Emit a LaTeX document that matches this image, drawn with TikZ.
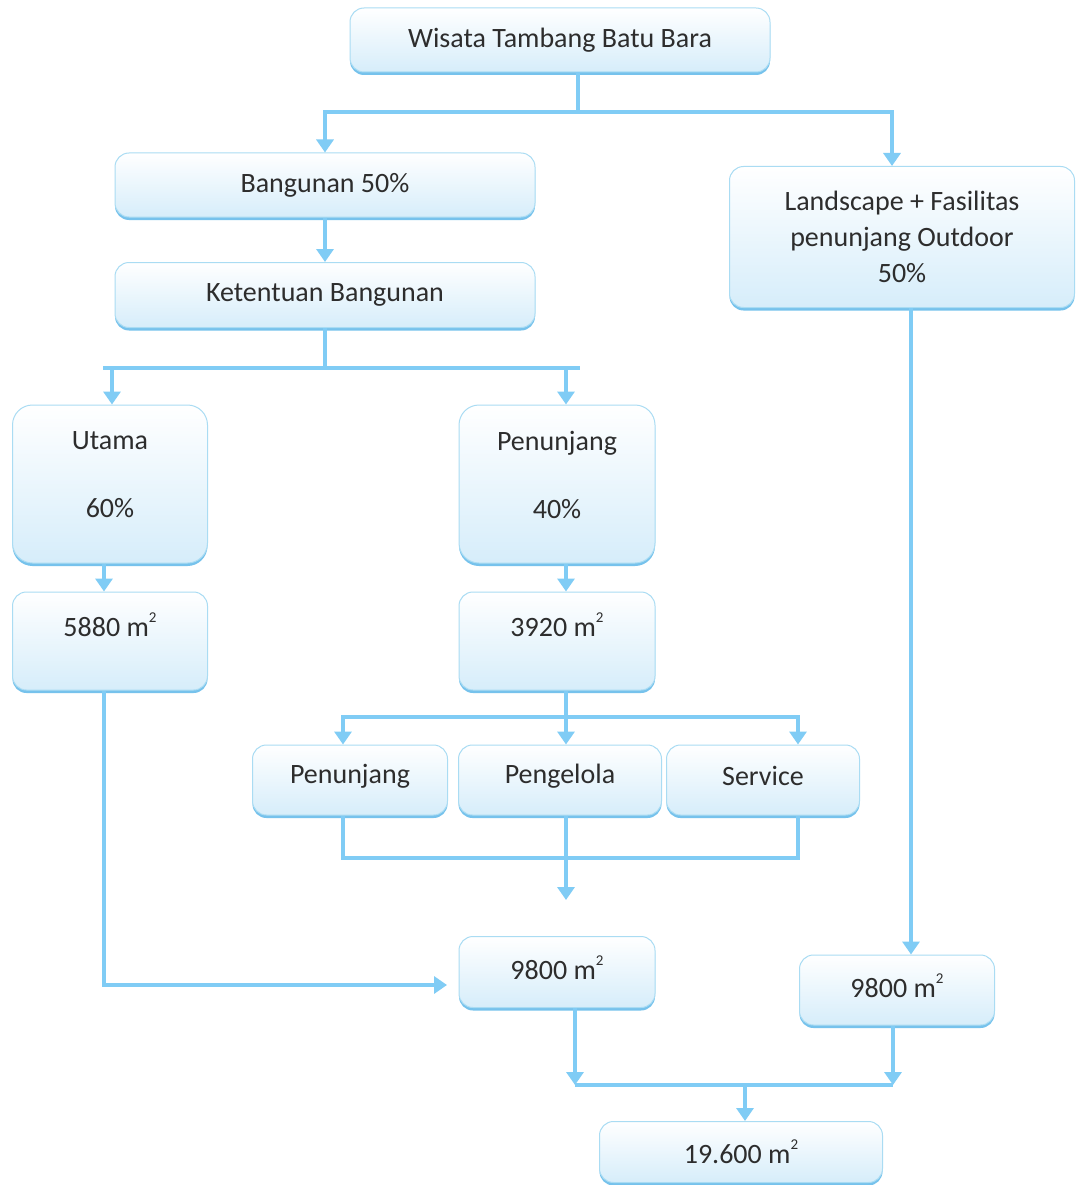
\documentclass[tikz,border=0pt]{standalone}
\usepackage{fontspec}
\setmainfont{Carlito}
\usetikzlibrary{arrows.meta,shadows}
\definecolor{lineblue}{RGB}{128,204,245}
\definecolor{edgeblue}{RGB}{170,220,243}
\definecolor{fillblue}{RGB}{214,237,250}
\definecolor{shadeblue}{RGB}{118,194,236}
\definecolor{txtgray}{RGB}{45,45,45}
\tikzset{
  box/.style={draw=edgeblue, line width=1pt, rounded corners=14pt,
    top color=white, bottom color=fillblue,
    drop shadow={shadow xshift=0pt, shadow yshift=-3pt, fill=shadeblue, opacity=1},
    inner sep=0pt, text=txtgray, font=\fontsize{28pt}{36pt}\selectfont, align=center},
  lbl/.style={text=txtgray, font=\fontsize{28pt}{36pt}\selectfont, align=center, inner sep=0pt},
  conn/.style={draw=lineblue, line width=4.5pt},
  arr/.style={conn, -{Triangle[width=17pt,length=13pt]}},
}
\newcommand{\sqm}[1]{#1 m\raisebox{0.5em}{\fontsize{15pt}{15pt}\selectfont 2}}
\begin{document}
\begin{tikzpicture}[x=1pt,y=-1pt]
\useasboundingbox[fill=white] (0,0) rectangle (1077,1185);

% boxes
\node[box, minimum width=420, minimum height=64] (wis) at (560,40) {Wisata Tambang Batu Bara};
\node[box, minimum width=420, minimum height=64] (bang) at (325,185) {Bangunan 50\%};
\node[box, minimum width=420, minimum height=65] (ket) at (325,295) {Ketentuan Bangunan};
\node[box, minimum width=345, minimum height=141] (land) at (902,237) {Landscape + Fasilitas\\penunjang Outdoor\\50\%};
\node[box, minimum width=195, minimum height=158, rounded corners=20pt] (utama) at (110,484) {};
\node[lbl] (utamaT) at (110,475) {Utama\\[32pt]60\%};
\node[box, minimum width=196, minimum height=158, rounded corners=20pt] (pen) at (557,484) {};
\node[lbl] (penT) at (557,475) {Penunjang\\[32pt]40\%};
\node[box, minimum width=195, minimum height=98] (a5880) at (110,641) {};
\node[lbl] (a5880T) at (110,625) {\sqm{5880}};
\node[box, minimum width=196, minimum height=98] (a3920) at (557,641) {};
\node[lbl] (a3920T) at (557,625) {\sqm{3920}};
\node[box, minimum width=195, minimum height=70] (penS) at (350,780) {};
\node[lbl] (penST) at (350,776) {Penunjang};
\node[box, minimum width=203, minimum height=70] (peng) at (560,780) {};
\node[lbl] (pengT) at (560,776) {Pengelola};
\node[box, minimum width=193, minimum height=70] (serv) at (763,780) {};
\node[lbl] (servT) at (763,776) {Service};
\node[box, minimum width=196, minimum height=71] (l9800) at (557,972) {};
\node[lbl] (l9800T) at (557,968) {\sqm{9800}};
\node[box, minimum width=195, minimum height=70] (r9800) at (897,990) {};
\node[lbl] (r9800T) at (897,986) {\sqm{9800}};
\node[box, minimum width=283, minimum height=61] (total) at (741,1152) {\sqm{19.600}};

% connector columns and junctions
\coordinate (j1) at (578,112);
\coordinate (cLand) at (892,0);
\coordinate (j2) at (325,368);
\coordinate (j2l) at (103,368);
\coordinate (j2r) at (580,368);
\coordinate (cUtIn) at (112,0);
\coordinate (cUt) at (104,0);
\coordinate (cPen) at (566,0);
\coordinate (j3) at (566,717);
\coordinate (c1) at (343,0);
\coordinate (c3) at (798,0);
\coordinate (u1) at (343,858);
\coordinate (u3) at (798,858);
\coordinate (down) at (566,900);
\coordinate (into) at (447,985);
\coordinate (cOut) at (911,0);
\coordinate (cL) at (575,0);
\coordinate (cR) at (893,0);
\coordinate (j4) at (745,1085);

% top split
\draw[conn] (wis.south -| j1) -- (j1);
\draw[arr] (j1) -| (bang.north);
\draw[arr] (j1) -| (cLand |- land.north);
\draw[arr] (bang.south) -- (ket.north);

% building split
\draw[conn] (ket.south) -- (j2);
\draw[conn] (j2l) -- (j2r);
\draw[arr] (cUtIn |- j2) -- (cUtIn |- utama.north);
\draw[arr] (cPen |- j2) -- (cPen |- pen.north);
\draw[arr] (cUt |- utama.south) -- (cUt |- a5880.north);
\draw[arr] (cPen |- pen.south) -- (cPen |- a3920.north);

% support split
\draw[conn] (cPen |- a3920.south) -- (j3);
\draw[arr] (j3) -| (c1 |- penS.north);
\draw[arr] (j3) -- (cPen |- peng.north);
\draw[arr] (j3) -| (c3 |- serv.north);
\draw[conn] (c1 |- penS.south) -- (u1) -- (u3) -- (c3 |- serv.south);
\draw[arr] (cPen |- peng.south) -- (down);

% main area to total building
\draw[arr] (cUt |- a5880.south) |- (into);

% landscape
\draw[arr] (cOut |- land.south) -- (cOut |- r9800.north);

% totals
\draw[arr] (cL |- l9800.south) -- (cL |- j4);
\draw[arr] (cR |- r9800.south) -- (cR |- j4);
\draw[conn] (cL |- j4) -- (cR |- j4);
\draw[arr] (j4) -- (j4 |- total.north);
\end{tikzpicture}
\end{document}
